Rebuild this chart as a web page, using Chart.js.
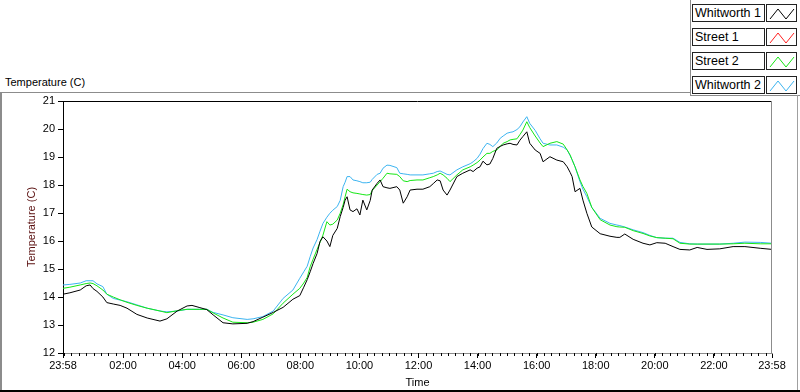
<!DOCTYPE html>
<html>
<head>
<meta charset="utf-8">
<script src="https://cdn.jsdelivr.net/npm/chart.js@4/dist/chart.umd.min.js"></script>
<style>
  html, body { margin: 0; padding: 0; background: #fff; }
  body { width: 800px; height: 392px; position: relative; overflow: hidden; font-family: "Liberation Sans", Arial, sans-serif; }
  .ln { position: absolute; }
  #title { position: absolute; left: 5px; top: 76px; font-size: 11px; color: #000; white-space: nowrap; }
  .name { position: absolute; left: 692px; width: 69px; height: 16px; border: 1px solid #222; font-size: 12.5px; line-height: 17px; padding-left: 2px; box-sizing: content-box; white-space: nowrap; color: #000; }
  .swatch { position: absolute; left: 766px; width: 29px; height: 16px; border: 1px solid #222; }
  #wrap { position: absolute; left: 0; top: 0; width: 800px; height: 392px; }
</style>
</head>
<body>
<div class="ln" style="left:0;top:92px;width:690px;height:1px;background:#8c8c8c"></div>
<div class="ln" style="left:690px;top:0;width:1px;height:96px;background:#8c8c8c"></div>
<div class="ln" style="left:690px;top:95px;width:110px;height:1px;background:#8c8c8c"></div>
<div class="ln" style="left:0;top:92px;width:2px;height:298px;background:#8c8c8c"></div>
<div class="ln" style="left:797px;top:95px;width:1px;height:295px;background:#a0a0a0"></div>
<div class="ln" style="left:0;top:390px;width:800px;height:2px;background:#000"></div>
<div id="title">Temperature (C)</div>
<div id="legend"></div>
<div id="wrap"><canvas id="myChart"></canvas></div>
<script>
// minutes after 23:58 (start of the record)
let times = [0, 14, 35, 47, 55, 61, 69, 81, 89, 102,
    116, 130, 150, 171, 197, 211, 232, 252, 262, 278,
    292, 305, 325, 345, 374, 386, 406, 427, 447, 467,
    481, 489, 496, 502, 508, 516, 522, 528, 536, 542,
    548, 557, 563, 569, 573, 577, 583, 589, 597, 603,
    609, 617, 624, 628, 638, 644, 650, 658, 664, 678,
    684, 691, 699, 705, 719, 731, 745, 752, 760, 766,
    772, 780, 786, 800, 812, 827, 833, 841, 847, 853,
    861, 867, 873, 881, 888, 894, 902, 908, 914, 922,
    928, 934, 942, 948, 959, 969, 975, 989, 1003, 1016,
    1024, 1030, 1034, 1040, 1050, 1056, 1064, 1074, 1091, 1111,
    1125, 1131, 1141, 1158, 1178, 1192, 1206, 1223, 1239, 1253,
    1273, 1288, 1308, 1334, 1361, 1385, 1416, 1440]

let whitworth1 = [14.10, 14.15, 14.25, 14.40, 14.43, 14.30, 14.20, 14.00, 13.80, 13.75,
    13.70, 13.60, 13.38, 13.25, 13.14, 13.22, 13.50, 13.68, 13.70, 13.62,
    13.55, 13.36, 13.08, 13.04, 13.06, 13.12, 13.28, 13.45, 13.63, 13.92,
    14.05, 14.35, 14.62, 14.90, 15.20, 15.55, 15.98, 16.15, 16.00, 15.80,
    16.20, 16.45, 16.87, 17.20, 17.46, 17.58, 17.11, 17.05, 17.15, 16.93,
    17.46, 17.11, 17.45, 17.82, 18.06, 18.18, 17.94, 17.90, 17.88, 17.94,
    17.82, 17.35, 17.58, 17.82, 17.85, 17.85, 17.94, 18.05, 18.18, 18.15,
    17.82, 17.64, 17.82, 18.30, 18.42, 18.54, 18.48, 18.60, 18.65, 18.85,
    18.72, 18.75, 18.95, 19.31, 19.38, 19.43, 19.47, 19.49, 19.45, 19.43,
    19.60, 19.73, 19.90, 19.49, 19.25, 19.13, 18.83, 19.01, 18.89, 18.83,
    18.65, 18.45, 18.30, 17.76, 17.88, 17.46, 16.99, 16.50, 16.26, 16.17,
    16.13, 16.13, 16.25, 16.06, 15.92, 15.86, 15.94, 15.92, 15.80, 15.70,
    15.68, 15.77, 15.70, 15.72, 15.80, 15.80, 15.74, 15.70]

// Street 1 has no trace visible in the plot
let street1 = []

let street2 = [14.31, 14.35, 14.43, 14.48, 14.50, 14.48, 14.40, 14.25, 14.10, 14.00,
    13.90, 13.81, 13.70, 13.60, 13.50, 13.44, 13.51, 13.56, 13.56, 13.56,
    13.56, 13.43, 13.25, 13.10, 13.08, 13.10, 13.20, 13.40, 13.78, 14.10,
    14.31, 14.50, 14.70, 15.08, 15.35, 15.70, 15.95, 16.21, 16.69, 16.57,
    16.60, 16.75, 16.99, 17.30, 17.58, 17.85, 17.76, 17.72, 17.70, 17.68,
    17.66, 17.64, 17.66, 17.80, 18.00, 18.12, 18.24, 18.42, 18.40, 18.38,
    18.30, 18.15, 18.12, 18.16, 18.18, 18.18, 18.26, 18.30, 18.36, 18.42,
    18.36, 18.24, 18.12, 18.36, 18.54, 18.65, 18.71, 18.80, 18.89, 19.00,
    19.13, 19.13, 19.20, 19.25, 19.38, 19.49, 19.55, 19.61, 19.63, 19.65,
    19.80, 19.96, 20.26, 20.05, 19.75, 19.50, 19.37, 19.49, 19.55, 19.46,
    19.25, 19.07, 18.90, 18.65, 18.18, 17.95, 17.70, 17.20, 16.76, 16.57,
    16.51, 16.50, 16.49, 16.37, 16.27, 16.18, 16.12, 16.10, 16.08, 15.92,
    15.89, 15.89, 15.89, 15.89, 15.90, 15.92, 15.90, 15.90]

let whitworth2 = [14.43, 14.45, 14.50, 14.58, 14.58, 14.58, 14.47, 14.37, 14.10, 13.95,
    13.89, 13.83, 13.72, 13.60, 13.50, 13.47, 13.50, 13.56, 13.56, 13.56,
    13.56, 13.45, 13.36, 13.26, 13.20, 13.22, 13.30, 13.50, 13.95, 14.25,
    14.67, 14.90, 15.10, 15.44, 15.75, 16.05, 16.35, 16.63, 16.85, 16.99,
    17.10, 17.23, 17.45, 17.94, 18.10, 18.30, 18.30, 18.18, 18.15, 18.12,
    18.08, 18.08, 18.10, 18.20, 18.38, 18.42, 18.60, 18.71, 18.70, 18.62,
    18.42, 18.40, 18.38, 18.36, 18.36, 18.36, 18.40, 18.42, 18.48, 18.50,
    18.45, 18.38, 18.36, 18.54, 18.65, 18.76, 18.83, 18.95, 19.10, 19.30,
    19.49, 19.45, 19.37, 19.50, 19.67, 19.75, 19.85, 19.88, 19.90, 19.98,
    20.08, 20.25, 20.44, 20.20, 19.95, 19.65, 19.49, 19.43, 19.43, 19.35,
    19.25, 19.05, 18.90, 18.65, 18.12, 17.85, 17.58, 17.20, 16.81, 16.63,
    16.57, 16.55, 16.50, 16.40, 16.30, 16.20, 16.12, 16.10, 16.10, 15.95,
    15.90, 15.89, 15.89, 15.89, 15.92, 15.96, 15.95, 15.92]

let seriesNames = ['Whitworth 1', 'Street 1', 'Street 2', 'Whitworth 2']
let seriesColors = ['#000000', '#ff2020', '#14e614', '#3cb4f0']
let seriesValues = [whitworth1, street1, street2, whitworth2]

let tickValues = [0, 122, 242, 362, 482, 602, 722, 842, 962, 1082, 1202, 1322, 1440]
let tickLabels = ['23:58', '02:00', '04:00', '06:00', '08:00', '10:00', '12:00',
    '14:00', '16:00', '18:00', '20:00', '22:00', '23:58']

let fontFamily = "'Liberation Sans', Arial, sans-serif"
Chart.defaults.font.family = fontFamily
Chart.defaults.font.size = 11

// legend boxes (HTML, like the instrument panel)
let legend = document.getElementById('legend')
seriesNames.forEach(function(name, i) {
    let top = 4 + i * 24
    let label = document.createElement('div')
    label.className = 'name'
    label.style.top = top + 'px'
    label.textContent = name
    legend.appendChild(label)
    let sw = document.createElement('div')
    sw.className = 'swatch'
    sw.style.top = top + 'px'
    sw.innerHTML = '<svg width="29" height="16"><polyline points="3,14 11,4 19,14 27,4" fill="none" stroke="' +
        seriesColors[i] + '" stroke-width="1"/></svg>'
    legend.appendChild(sw)
})

// top/right border of the plot and the small minor ticks on the time axis
let plotFrame = {
    id: 'plotFrame',
    afterDraw: function(chart) {
        let ctx = chart.ctx
        let a = chart.chartArea
        let xs = chart.scales.x
        ctx.save()
        ctx.lineWidth = 1
        ctx.strokeStyle = '#000'
        ctx.beginPath()
        ctx.moveTo(a.left, Math.round(a.top) + 0.5)
        ctx.lineTo(a.right, Math.round(a.top) + 0.5)
        ctx.stroke()
        ctx.strokeStyle = '#8c8c8c'
        ctx.beginPath()
        ctx.moveTo(Math.round(a.right) - 0.5, a.top)
        ctx.lineTo(Math.round(a.right) - 0.5, a.bottom)
        ctx.stroke()
        ctx.strokeStyle = '#000'
        ctx.beginPath()
        for (let m = 2; m < 1440; m += 15) {
            let px = Math.round(xs.getPixelForValue(m)) + 0.5
            ctx.moveTo(px, a.bottom)
            ctx.lineTo(px, a.bottom + 3)
        }
        ctx.stroke()
        ctx.restore()
    }
}

let ctx = document.getElementById('myChart').getContext('2d')
let chart = new Chart(ctx, {
    type: 'line',
    data: {
        datasets: seriesNames.map(function(name, i) {
            return {
                label: name,
                borderColor: seriesColors[i],
                backgroundColor: seriesColors[i],
                borderWidth: 1,
                pointRadius: 0,
                tension: 0,
                fill: false,
                data: seriesValues[i].map(function(v, j) { return { x: times[j], y: v } })
            }
        })
    },
    options: {
        responsive: true,
        maintainAspectRatio: false,
        animation: false,
        layout: { padding: { top: 101, right: 28, bottom: 0, left: 0 } },
        plugins: { legend: { display: false }, tooltip: { enabled: false } },
        scales: {
            x: {
                type: 'linear',
                min: 0,
                max: 1440,
                afterBuildTicks: function(scale) {
                    scale.ticks = tickValues.map(function(v) { return { value: v } })
                },
                afterFit: function(scale) { scale.height = 39 },
                grid: { drawOnChartArea: false, tickLength: 5, tickColor: '#000' },
                border: { color: '#8c8c8c' },
                ticks: {
                    color: '#000',
                    padding: 1,
                    maxRotation: 0,
                    autoSkip: false,
                    callback: function(v, i) { return tickLabels[i] }
                },
                title: { display: true, text: 'Time', color: '#000', padding: { top: 0, bottom: 2 } }
            },
            y: {
                min: 12,
                max: 21,
                afterFit: function(scale) { scale.width = 63 },
                grid: { drawOnChartArea: false, tickLength: 5, tickColor: '#000' },
                border: { color: '#000' },
                ticks: { stepSize: 1, color: '#000', padding: 3 },
                title: { display: true, text: 'Temperature (C)', color: '#5a1010', padding: { top: 25, bottom: 0 } }
            }
        }
    },
    plugins: [plotFrame]
})
</script>
</body>
</html>
